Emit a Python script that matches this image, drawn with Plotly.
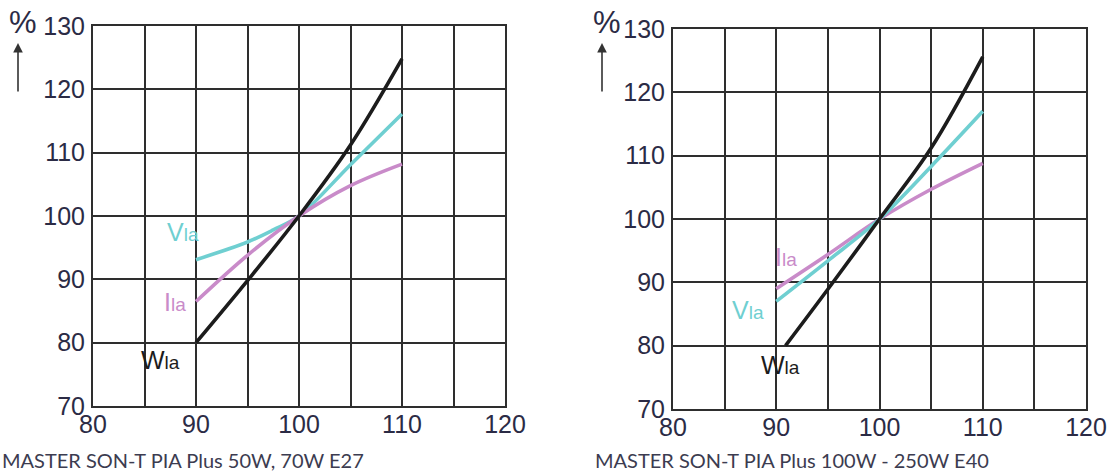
import plotly.graph_objects as go

W, H = 1111, 473

# ---- data (left chart: 50W, 70W E27) ----
x_left_W = [90, 95, 100, 105, 110]
w_left = [80.0, 89.8, 100.0, 111.2, 124.8]
x_left_V = [90, 95, 97.5, 100, 105, 110]
v_left = [93.1, 95.9, 97.8, 100.0, 108.1, 116.1]
x_left_I = [90, 95, 100, 105, 110]
i_left = [86.5, 93.8, 100.0, 104.8, 108.2]

# ---- data (right chart: 100W - 250W E40) ----
x_right_W = [90.9, 95, 100, 105, 110]
w_right = [80.0, 88.9, 100.0, 111.2, 125.6]
x_right_V = [90, 95, 100, 105, 110]
v_right = [87.0, 93.4, 100.0, 108.3, 117.0]
x_right_I = [90, 95, 100, 105, 110]
i_right = [89.0, 94.4, 100.0, 104.7, 108.8]

x_ticks = [80, 90, 100, 110, 120]
y_ticks = [70, 80, 90, 100, 110, 120, 130]
captions = ["MASTER SON-T PIA Plus 50W, 70W E27", "MASTER SON-T PIA Plus 100W - 250W E40"]

BLACK = "#1c1c1c"
CYAN = "#6fcfd1"
PINK = "#c98bc9"
GRID = "#2e2e2e"
TXT = "#2b2b45"

fig = go.Figure()

def add(xs, ys, color, xa, ya):
    fig.add_trace(go.Scatter(x=xs, y=ys, mode="lines", xaxis=xa, yaxis=ya,
                             line=dict(color=color, width=3.6, shape="spline", smoothing=1.0),
                             showlegend=False, hoverinfo="skip"))

add(x_left_V, v_left, CYAN, "x", "y")
add(x_left_I, i_left, PINK, "x", "y")
add(x_left_W, w_left, BLACK, "x", "y")
add(x_right_I, i_right, PINK, "x2", "y2")
add(x_right_V, v_right, CYAN, "x2", "y2")
add(x_right_W, w_right, BLACK, "x2", "y2")

def px(v): return v / W
def py(v): return 1 - v / H

axis_common = dict(showline=True, linecolor=GRID, linewidth=2, mirror=True,
                   showgrid=True, gridcolor=GRID, gridwidth=2, zeroline=False,
                   ticks="", automargin=False,
                   tickfont=dict(family="Liberation Sans, Arial", size=25, color=TXT),
                   fixedrange=True)

xa = dict(axis_common, range=[80, 120], tickvals=x_ticks, ticklabelstandoff=-5,
          minor=dict(dtick=5, tick0=80, showgrid=True, gridcolor=GRID, gridwidth=2))
ya = dict(axis_common, range=[70, 130], tickvals=y_ticks, ticklabelstandoff=1)

fig.update_layout(
    width=W, height=H, margin=dict(l=0, r=0, t=0, b=0, autoexpand=False),
    paper_bgcolor="white", plot_bgcolor="white",
    xaxis=dict(xa, domain=[px(93), px(505)], anchor="y"),
    yaxis=dict(ya, domain=[py(406), py(26)], anchor="x"),
    xaxis2=dict(xa, domain=[px(673), px(1086)], anchor="y2"),
    yaxis2=dict(ya, domain=[py(409), py(29)], anchor="x2"),
)

def lab(main, sub, color, x, y, xr, yr):
    fig.add_annotation(x=x, y=y, xref=xr, yref=yr, showarrow=False,
                       xanchor="center", yanchor="middle",
                       text=f"{main}<span style='font-size:19px'>{sub}</span>",
                       font=dict(family="Liberation Sans, Arial", size=25, color=color))

lab("V", "la", CYAN, 88.7, 97.4, "x", "y")
lab("I", "la", PINK, 88.0, 86.5, "x", "y")
lab("W", "la", BLACK, 86.6, 77.3, "x", "y")
lab("I", "la", PINK, 90.9, 94.0, "x2", "y2")
lab("V", "la", CYAN, 87.3, 85.6, "x2", "y2")
lab("W", "la", BLACK, 90.4, 76.9, "x2", "y2")

for xp, xarrow in [(23, 18), (607, 602)]:
    fig.add_annotation(x=px(xp), y=py(23), xref="paper", yref="paper", text="%",
                       xanchor="center", yanchor="middle",
                       showarrow=False, font=dict(family="Liberation Sans, Arial", size=31, color=TXT))
    fig.add_annotation(x=px(xarrow), y=py(43), xref="paper", yref="paper", text="",
                       showarrow=True, ax=0, ay=50, axref="pixel", ayref="pixel",
                       arrowhead=2, arrowsize=1.2, arrowwidth=1.6, arrowcolor="#333")

for xp, cap in [(0, captions[0]), (593, captions[1])]:
    fig.add_annotation(x=px(xp), y=py(460), xref="paper", yref="paper", text=cap,
                       xanchor="left", yanchor="middle", showarrow=False,
                       font=dict(family="Lato", size=20, color="#3c3c50"))

fig.write_html("out.html", config={"displayModeBar": False},
               post_script="document.body.style.margin='0px';document.body.style.overflow='hidden';")
